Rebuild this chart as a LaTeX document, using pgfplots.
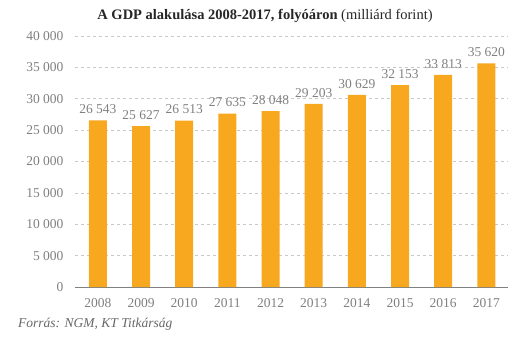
\documentclass[border=0pt]{standalone}
\usepackage{pgfplots}
\pgfplotsset{compat=1.18}
\usepackage{fontspec}
\setmainfont{Liberation Serif}
\definecolor{barc}{HTML}{F7A81E}
\definecolor{tickc}{HTML}{808080}
\definecolor{gridc}{HTML}{C8C8C8}
\begin{document}
\begin{tikzpicture}[x=1pt,y=1pt]
\path[use as bounding box] (0,0) rectangle (530,341);
\begin{axis}[
  at={(75pt,54pt)}, anchor=south west,
  scale only axis, width=433pt, height=251pt,
  ymin=0, ymax=40000, xmin=-0.53, xmax=9.5,
  xtick=data,
  xticklabels={2008,2009,2010,2011,2012,2013,2014,2015,2016,2017},
  ytick={0,5000,...,40000},
  axis x line*=bottom, axis y line*=left,
  y axis line style={draw=none},
  x axis line style={draw=tickc, line width=1pt},
  major tick length=0pt,
  ymajorgrids, grid style={gridc, dashed, line width=0.6pt},
  /pgf/number format/assume math mode=true,
  /pgf/number format/1000 sep={\ },
  scaled y ticks=false,
  tick label style={font=\fontsize{13.5}{15}\selectfont, text=tickc},
  yticklabel style={xshift=-8pt},
  xticklabel style={yshift=-8pt},
  nodes near coords,
  every node near coord/.append style={font=\fontsize{13.5}{15}\selectfont, text=tickc, yshift=3pt,
    /pgf/number format/1000 sep={\ }},
  ybar, bar width=18pt,
]
\addplot[fill=barc, draw=none] coordinates {
(0,26543) (1,25627) (2,26513) (3,27635) (4,28048) (5,29203) (6,30629) (7,32153) (8,33813) (9,35620)};
\end{axis}
\node[anchor=center, text=black!85] at (265,325) {\fontsize{14.5}{16}\selectfont\textbf{A GDP alakulása 2008-2017, folyóáron} (milliárd forint)};
\node[anchor=west, text=black!60, inner sep=0pt] at (18,17) {\fontsize{13.5}{15}\selectfont\itshape Forrás: NGM, KT Titkárság};
\end{tikzpicture}
\end{document}
